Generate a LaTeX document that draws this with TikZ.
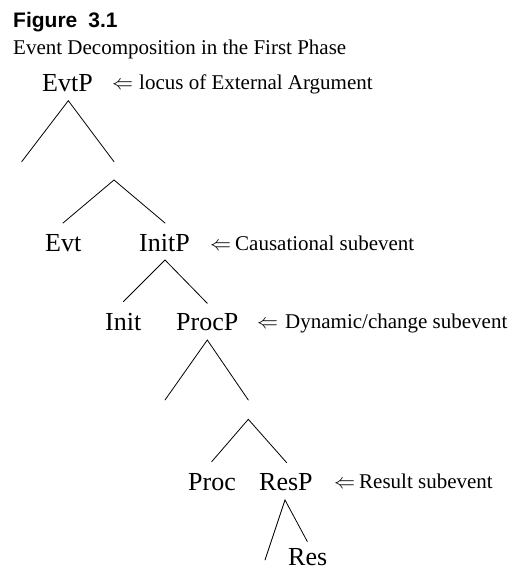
\documentclass[tikz,border=0pt]{standalone}
\usepackage{fontspec}
\setmainfont{Liberation Serif}
\newfontfamily\figfont{Liberation Sans}
\newcommand{\bigLarrow}{\scalebox{2.1}{\fontsize{10}{12}\selectfont$\Leftarrow$}}
\tikzset{
  lab/.style={anchor=base west, inner sep=0pt, font=\fontsize{26}{30}\selectfont},
  note/.style={anchor=base west, inner sep=0pt, font=\fontsize{21}{25}\selectfont},
  arr/.style={anchor=base west, inner sep=0pt},
  branch/.style={line width=0.8pt, line cap=round}
}
\begin{document}
\begin{tikzpicture}[x=1pt,y=-1pt]
\useasboundingbox (0,0) rectangle (510,571);
% caption
\node[anchor=base west, inner sep=0pt, font=\figfont\bfseries\fontsize{21}{25}\selectfont] (fig) at (13,27) {Figure\hspace{11pt}3.1};
\node[note] (cap) at (13,54) {Event Decomposition in the First Phase};
% labels
\node[lab] (evtp) at (42,91) {EvtP};
\node[arr] (a1) at (112,89.5) {\bigLarrow};
\node[note] (n1) at (139,89.5) {locus of External Argument};
\node[lab] (evt) at (45,251) {Evt};
\node[lab] (initp) at (139,251.5) {InitP};
\node[arr] (a2) at (210,250) {\bigLarrow};
\node[note] (n2) at (235,250) {Causational subevent};
\node[lab] (init) at (105,330) {Init};
\node[lab] (procp) at (176,330) {ProcP};
\node[arr] (a3) at (257,328.5) {\bigLarrow};
\node[note] (n3) at (285,328.5) {Dynamic/change subevent};
\node[lab] (proc) at (188,490) {Proc};
\node[lab] (resp) at (259,490) {ResP};
\node[arr] (a4) at (334,488.5) {\bigLarrow};
\node[note] (n4) at (359,488.5) {Result subevent};
\node[lab] (res) at (288,565) {Res};
% junctions
\coordinate (evtpB) at (68.3,100.7);
\coordinate (specE) at (21.7,161.7);
\coordinate (evtbarT) at (114,161.7);
\coordinate (evtbarB) at (114,180);
\coordinate (evtT) at (63,223);
\coordinate (initpT) at (165,223);
\coordinate (initpB) at (165,260);
\coordinate (initT) at (123.3,301.7);
\coordinate (procpT) at (207.3,303.3);
\coordinate (procpB) at (207.3,340);
\coordinate (specP) at (165,400);
\coordinate (procbarT) at (248.3,400);
\coordinate (procbarB) at (248.3,419.3);
\coordinate (procT) at (211.7,461.7);
\coordinate (respT) at (286.7,462.7);
\coordinate (respB) at (285,500);
\coordinate (specR) at (265,560);
\coordinate (resT) at (307.3,541.5);
% branches
\draw[branch] (specE) -- (evtpB) -- (evtbarT);
\draw[branch] (evtT) -- (evtbarB) -- (initpT);
\draw[branch] (initT) -- (initpB) -- (procpT);
\draw[branch] (specP) -- (procpB) -- (procbarT);
\draw[branch] (procT) -- (procbarB) -- (respT);
\draw[branch] (specR) -- (respB) -- (resT);
\end{tikzpicture}
\end{document}
